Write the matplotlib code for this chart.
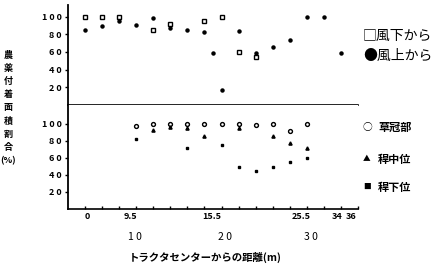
import numpy as np
import matplotlib
matplotlib.use("Agg")
import matplotlib.pyplot as plt

plt.rcParams['font.family'] = ['Noto Sans CJK JP', 'DejaVu Sans']

# top panel: 風下から / 風上から
lee_x = [4, 6, 8, 12, 14, 18, 20, 22, 24]
lee_val = [100, 100, 100, 85, 91, 95, 100, 60, 54]
wind_x = [4, 6, 8, 10, 12, 14, 16, 18, 19, 20, 22, 24, 26, 28, 30, 32, 34]
wind_val = [85, 89, 95, 90, 98, 87, 85, 83, 59, 17, 84, 59, 65, 73, 100, 100, 59]

# bottom panel: plant parts
part_x = [10, 12, 14, 16, 18, 20, 22, 24, 26, 28, 30]
crown = [97, 100, 100, 100, 100, 100, 100, 99, 100, 92, 100]
mid = [np.nan, 93, 96, 95, 86, np.nan, 95, np.nan, 86, 77, 72]
low = [82, np.nan, np.nan, 71, np.nan, 75, 49, 44, 49, 55, 60]

ytick_vals = [20, 40, 60, 80, 100]
ytick_txt = ["2 0", "4 0", "6 0", "8 0", "1 0 0"]
upper_lbl_x = [4.2, 9.3, 18.8, 29.3, 33.5, 35.2]
upper_lbl = ["0", "9.5", "15.5", "25.5", "34", "36"]
lower_lbl_x = [9.9, 20.4, 30.5]
lower_lbl = ["1 0", "2 0", "3 0"]

W, H = 441, 268
fig = plt.figure(figsize=(W / 100, H / 100), dpi=100)
left, right = 68 / W, 358 / W
ax_top = fig.add_axes([left, 1 - 105 / H, right - left, 100 / H])
ax_bot = fig.add_axes([left, 1 - 209 / H, right - left, 104 / H])

for ax in (ax_top, ax_bot):
    ax.set_xlim(2, 36)
    for s in ('top', 'right'):
        ax.spines[s].set_visible(False)
    ax.spines['left'].set_linewidth(1.3)
    ax.spines['bottom'].set_linewidth(1.2)
    ax.set_yticks(ytick_vals)
    ax.set_yticklabels(ytick_txt, fontsize=6.5, fontweight='bold')
    ax.tick_params(axis='y', length=2.5, width=1, pad=2)

ax_top.set_ylim(0, 113)
ax_bot.set_ylim(0, 122)
ax_top.set_xticks([])
ax_bot.set_xticks(np.arange(4, 37, 2))
ax_bot.set_xticklabels([])
ax_bot.tick_params(axis='x', direction='in', length=2.5, width=1)

ax_top.plot(lee_x, lee_val, 's', ms=2.6, mfc='white', mec='black', mew=1.0, clip_on=False)
ax_top.plot(wind_x, wind_val, 'o', ms=2.2, color='black', clip_on=False)

ax_bot.plot(part_x, crown, 'o', ms=2.8, mfc='white', mec='black', mew=1.0, clip_on=False)
ax_bot.plot(part_x, mid, '^', ms=2.3, color='black')
ax_bot.plot(part_x, low, 's', ms=2.0, color='black')

# secondary x labels
for xv, t in zip(upper_lbl_x, upper_lbl):
    ax_bot.text(xv, -9, t, ha='center', va='center', fontsize=6.5,
                fontweight='bold', clip_on=False)
for xv, t in zip(lower_lbl_x, lower_lbl):
    ax_bot.text(xv, -33, t, ha='center', va='center', fontsize=7.5,
                clip_on=False)

fig.text(205 / W, 1 - 257 / H, "トラクタセンターからの距離(m)", ha='center',
         va='center', fontsize=7.5, fontweight='bold')
fig.text(8 / W, 1 - 108 / H, "\n".join("農薬付着面積割合") + "\n(%)", ha='center',
         va='center', fontsize=6.5, fontweight='bold', linespacing=1.6)

# legends
fig.text(363 / W, 1 - 36 / H, "□風下から", ha='left', va='center', fontsize=10)
fig.text(363 / W, 1 - 56 / H, "●風上から", ha='left', va='center', fontsize=10)
leg = [("○", "草冠部", 127), ("▲", "稈中位", 159), ("■", "稈下位", 187)]
for m, t, yy in leg:
    fig.text(367 / W, 1 - yy / H, m, ha='center', va='center', fontsize=5.5 if m != "○" else 7)
    fig.text(378 / W, 1 - yy / H, t, ha='left', va='center', fontsize=8, fontweight='bold')

fig.savefig("out.png", dpi=100)
